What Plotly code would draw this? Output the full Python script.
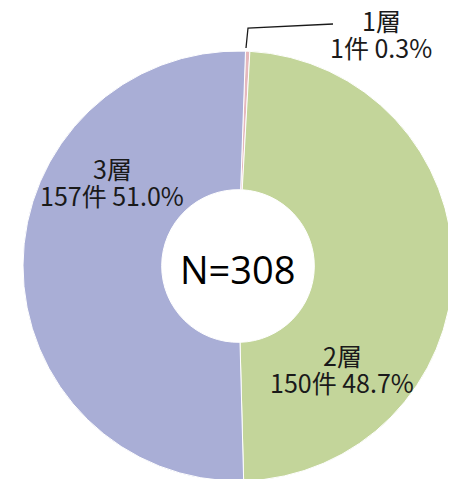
import plotly.graph_objects as go

# ---- data ----
categories = ["1層", "2層", "3層"]
counts = [1, 150, 157]
percents = [0.3, 48.7, 51.0]
total_n = 308
colors = ["#E5B8BD", "#C3D59A", "#A9AED6"]

W, H = 456, 479
OFF = 8  # page body margin
FONT = "Noto Sans CJK JP"

def px(x):
    return (x - OFF) / W

def py(y):
    return 1 - (y - OFF) / H

fig = go.Figure()
fig.add_trace(go.Pie(
    labels=categories,
    values=counts,
    sort=False,
    direction="clockwise",
    rotation=2,
    hole=0.355,
    marker=dict(colors=colors, line=dict(color="white", width=1)),
    textinfo="none",
    hoverinfo="none",
    domain=dict(x=[px(23), px(453)], y=[py(481), py(51)]),
))

# label positions (pixel centers of the two text lines)
label_pos = {"1層": (381, 20, 47), "2層": (342, 355, 382), "3層": (112, 168, 195)}
annotations = []
for cat, cnt, pct in zip(categories, counts, percents):
    x, y1, y2 = label_pos[cat]
    annotations.append(dict(x=px(x), y=py(y1), xref="paper", yref="paper",
                            text=cat, showarrow=False,
                            font=dict(family=FONT, size=25, color="#1a1a1a"),
                            xanchor="center", yanchor="middle"))
    annotations.append(dict(x=px(x), y=py(y2), xref="paper", yref="paper",
                            text=f"{cnt}件 {pct:.1f}%", showarrow=False,
                            font=dict(family=FONT, size=25, color="#1a1a1a"),
                            xanchor="center", yanchor="middle"))

annotations.append(dict(x=px(238), y=py(269), xref="paper", yref="paper",
                        text=f"N={total_n}", showarrow=False,
                        font=dict(family="Open Sans", size=38, color="black"),
                        xanchor="center", yanchor="middle"))

fig.update_layout(
    width=W, height=H,
    margin=dict(l=0, r=0, t=0, b=0),
    paper_bgcolor="white",
    showlegend=False,
    annotations=annotations,
    shapes=[dict(type="path", xref="paper", yref="paper",
                 path=f"M {px(246)} {py(48)} L {px(248)} {py(28)} L {px(333)} {py(24)}",
                 line=dict(color="#1a1a1a", width=1.3))],
)

fig.write_html("out.html")
